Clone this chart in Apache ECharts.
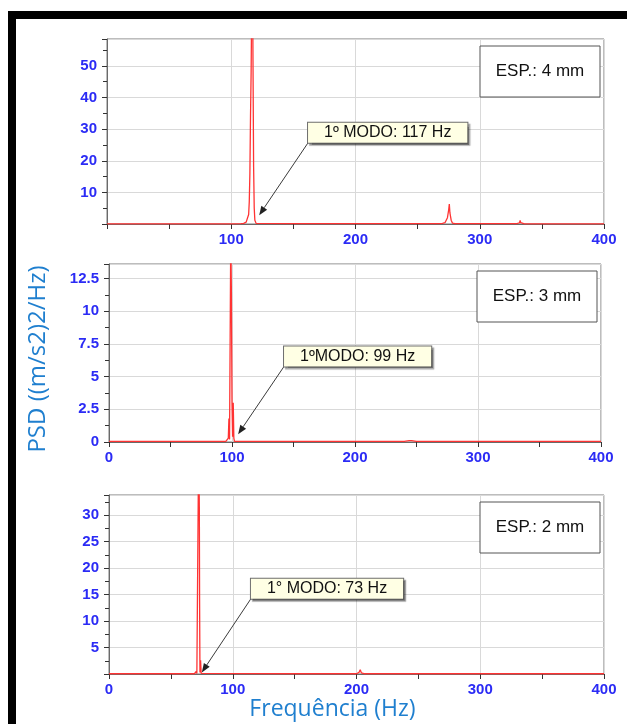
<!DOCTYPE html>
<html>
<head>
<meta charset="utf-8">
<script src="https://cdn.jsdelivr.net/npm/echarts@6/dist/echarts.min.js"></script>
<style>
  html, body { margin: 0; padding: 0; background: #fff; }
  #chart { width: 627px; height: 724px; }
</style>
</head>
<body>
<div id="chart"></div>
<script>
// PSD spectra for three plate thicknesses: [frequency (Hz), PSD ((m/s2)2/Hz)]
const spectrum4mm = [
  [0, 0.05], [50, 0.05], [100, 0.05], [108, 0.1], [110, 0.2], [112, 0.6], [113, 1.2],
  [114, 3], [114.5, 7], [115, 16], [115.5, 34], [116, 48], [116.5, 72], [117, 90],
  [117.5, 51.5], [118, 18], [118.5, 5], [119, 1.2], [120, 0.2], [150, 0.1], [200, 0.1],
  [250, 0.1], [268, 0.1], [270, 0.2], [272, 0.4], [273, 0.8], [274, 2], [275, 4.5],
  [275.5, 6.3], [276, 3.5], [277, 1.2], [278, 0.3], [280, 0.1], [300, 0.1], [330, 0.1],
  [332, 0.4], [332.5, 1.1], [333, 0.4], [334, 0.1], [336, 0.05], [370, 0.05], [400, 0.05]
];
const spectrum3mm = [
  [0, 0.05], [50, 0.05], [95, 0.05], [96.5, 0.1], [97, 0.3], [97.5, 1.8], [98, 0.2],
  [98.5, 8], [99, 16], [99.5, 11.5], [100, 3], [100.5, 0.4], [101, 3], [101.5, 0.3],
  [102, 0.05], [150, 0.05], [240, 0.05], [244, 0.1], [245, 0.2], [246, 0.1], [250, 0.05],
  [400, 0.05]
];
const spectrum2mm = [
  [0, 0.05], [50, 0.05], [69, 0.05], [70, 0.3], [70.5, 0.5], [71, 0.1], [72, 0.3],
  [72.5, 45], [73, 31.2], [73.2, 14], [73.5, 0.3], [74, 2.6], [74.5, 0.1], [75, 0.05],
  [150, 0.05], [200, 0.05], [202, 0.3], [203, 0.8], [204, 0.2], [206, 0.05], [212, 0.05],
  [213, 0.3], [214, 0.05], [400, 0.05]
];

const spectra = [spectrum4mm, spectrum3mm, spectrum2mm];
const thicknessLabels = ['ESP.: 4 mm', 'ESP.: 3 mm', 'ESP.: 2 mm'];
const modeLabels = ['1º MODO: 117 Hz', '1ºMODO: 99 Hz', '1° MODO: 73 Hz'];
const yMaxValues = [58.5, 13.6, 33.8];
const yIntervals = [10, 2.5, 5];
const xMin = 0, xMax = 400, xInterval = 100;

// Layout of the three panels (pixels)
const panels = [
  { left: 107, right: 23, top: 39, height: 185 },
  { left: 109, right: 26, top: 264, height: 178 },
  { left: 109, right: 23, top: 495, height: 179 }
];
// Callout placement in each panel's data space: box top-left corner and arrow tip
const calloutBox = [[161.8, 32], [142.3, 7.3], [114.7, 18]];
const calloutTip = [[122.5, 2.8], [105, 0.6], [75, 0.3]];

const tickBlue = '#2b2bf5';
const titleBlue = '#1f7fcf';
const labelFont = '"Liberation Sans", Arial, sans-serif';

const chart = echarts.init(document.getElementById('chart'), null, { renderer: 'canvas' });

const grids = panels.map(p => ({
  left: p.left, right: p.right, top: p.top, height: p.height,
  show: true, borderColor: '#7a7a7a', borderWidth: 1, backgroundColor: 'transparent'
}));

const xAxes = panels.map((p, i) => ({
  type: 'value', gridIndex: i, min: xMin, max: xMax, interval: xInterval,
  axisLine: { show: true, lineStyle: { color: '#6a6a6a', width: 1 } },
  axisTick: { show: true, length: 5, lineStyle: { color: '#333' } },
  minorTick: { show: true, splitNumber: 2, length: 5, lineStyle: { color: '#333' } },
  splitLine: { show: true, lineStyle: { color: '#d9d9d9', width: 1 } },
  axisLabel: {
    show: true, margin: 8, color: tickBlue, fontSize: 15, fontWeight: 'bold',
    fontFamily: labelFont, showMinLabel: i !== 0
  },
  name: i === 2 ? 'Frequência (Hz)' : '',
  nameLocation: 'middle', nameGap: 20,
  nameTextStyle: {
    color: titleBlue, fontSize: 23, fontFamily: '"Open Sans", "Noto Sans", sans-serif',
    padding: [0, 48, 0, 0]
  }
}));

const yAxes = panels.map((p, i) => ({
  type: 'value', gridIndex: i, min: 0, max: yMaxValues[i], interval: yIntervals[i],
  axisLine: { show: true, lineStyle: { color: '#6a6a6a', width: 1 } },
  axisTick: { show: true, length: 5, lineStyle: { color: '#333' } },
  minorTick: { show: true, splitNumber: 2, length: 4, lineStyle: { color: '#333' } },
  splitLine: { show: true, lineStyle: { color: '#d9d9d9', width: 1 } },
  axisLabel: {
    show: true, margin: 10, color: tickBlue, fontSize: 15, fontWeight: 'bold',
    fontFamily: labelFont, showMaxLabel: false,
    formatter: v => (v === 0 && i !== 1) ? '' : String(v)
  },
  name: i === 1 ? 'PSD ((m/s2)2/Hz)' : '',
  nameLocation: 'middle', nameGap: 59,
  nameTextStyle: {
    color: titleBlue, fontSize: 24, fontFamily: '"Open Sans", "Noto Sans", sans-serif',
    padding: [0, 12, 0, 0]
  }
}));

const series = spectra.map((data, i) => ({
  type: 'line', xAxisIndex: i, yAxisIndex: i, data: data,
  showSymbol: false, symbol: 'none', clip: true, smooth: false,
  lineStyle: { color: '#ff3333', width: 1.3 },
  emphasis: { disabled: true }
}));

chart.setOption({
  animation: false,
  backgroundColor: '#ffffff',
  grid: grids, xAxis: xAxes, yAxis: yAxes, series: series
});

// Frame, thickness boxes and mode callouts
const graphics = [
  { type: 'rect', z: 200, shape: { x: 8, y: 11, width: 619, height: 8 }, style: { fill: '#000' } },
  { type: 'rect', z: 200, shape: { x: 8, y: 11, width: 8, height: 713 }, style: { fill: '#000' } }
];

spectra.forEach((_, i) => {
  const corner = chart.convertToPixel({ gridIndex: i }, [xMax, yMaxValues[i]]);
  const bw = 120, bh = 51;
  const bx = corner[0] - 4 - bw, by = corner[1] + 7;
  graphics.push({
    type: 'rect', z: 100,
    shape: { x: bx, y: by, width: bw, height: bh },
    style: { fill: '#fff', stroke: '#555', lineWidth: 1 }
  });
  graphics.push({
    type: 'text', z: 101,
    style: {
      text: thicknessLabels[i], x: bx + bw / 2, y: by + bh / 2,
      align: 'center', verticalAlign: 'middle',
      font: '17px ' + labelFont, fill: '#111'
    }
  });

  const tl = chart.convertToPixel({ gridIndex: i }, calloutBox[i]);
  const tip = chart.convertToPixel({ gridIndex: i }, calloutTip[i]);
  const boxH = 20;
  const tail = [tl[0], tl[1] + boxH];
  graphics.push({
    type: 'text', z: 102,
    style: {
      text: modeLabels[i], x: tl[0], y: tl[1], align: 'left', verticalAlign: 'top',
      font: '16px ' + labelFont, fill: '#111', lineHeight: 18,
      backgroundColor: '#ffffe4', borderColor: '#6e6e6e', borderWidth: 1,
      padding: [1, 16, 1, 16],
      shadowColor: 'rgba(0,0,0,0.35)', shadowOffsetX: 2, shadowOffsetY: 2, shadowBlur: 1
    }
  });
  // arrow from the callout to the peak base
  const dx = tip[0] - tail[0], dy = tip[1] - tail[1];
  const len = Math.sqrt(dx * dx + dy * dy);
  const ux = dx / len, uy = dy / len;
  const headL = 9, headW = 3.5;
  const bxp = tip[0] - ux * headL, byp = tip[1] - uy * headL;
  graphics.push({
    type: 'line', z: 101,
    shape: { x1: tail[0], y1: tail[1], x2: bxp, y2: byp },
    style: { stroke: '#3a3a3a', lineWidth: 1 }
  });
  graphics.push({
    type: 'polygon', z: 101,
    shape: { points: [[tip[0], tip[1]], [bxp - uy * headW, byp + ux * headW], [bxp + uy * headW, byp - ux * headW]] },
    style: { fill: '#222' }
  });
});

chart.setOption({ graphic: graphics });
</script>
</body>
</html>
